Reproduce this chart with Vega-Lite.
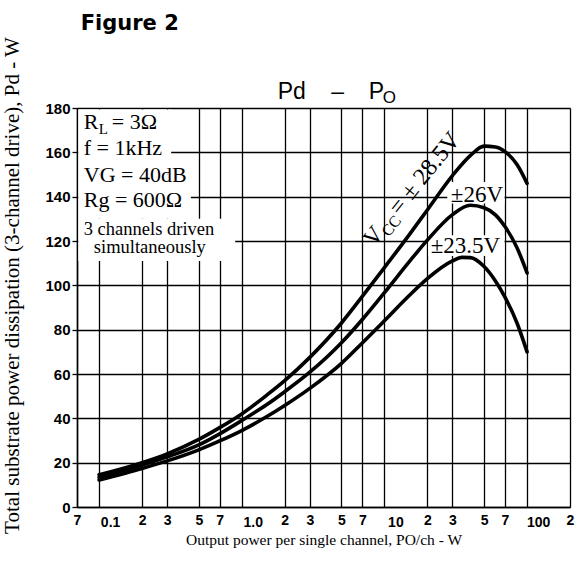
{
  "$schema": "https://vega.github.io/schema/vega-lite/v6.json",
  "width": 493,
  "height": 399,
  "autosize": {"type": "none"},
  "padding": {"left": 77, "top": 108, "right": 10, "bottom": 55},
  "background": "white",
  "config": {"view": {"stroke": null}},
  "encoding": {
    "x": {
      "field": "x", "type": "quantitative",
      "scale": {"type": "log", "domain": [0.07, 200], "nice": false},
      "axis": {
        "values": [0.07, 0.1, 0.2, 0.3, 0.5, 0.7, 1, 2, 3, 5, 7, 10, 20, 30, 50, 70, 100, 200],
        "labelExpr": "datum.value==0.1?'0.1':datum.value==1?'1.0':datum.value==10?'10':datum.value==100?'100':substring(format(datum.value,'.1e'),0,1)",
        "grid": true, "gridColor": "#000", "gridWidth": 1.3, "gridOpacity": 1,
        "domain": true, "domainColor": "#000", "domainWidth": 1.5,
        "ticks": false,
        "labelFont": "Liberation Sans", "labelFontSize": 14, "labelFontWeight": "bold", "labelColor": "#000",
        "labelBaseline": "top",
        "labelPadding": {"condition": {"test": "datum.value==0.1||datum.value==1||datum.value==10||datum.value==100", "value": 8}, "value": 6},
        "labelOffset": {"condition": {"test": "datum.value==0.1||datum.value==1||datum.value==10||datum.value==100", "value": 11}, "value": 0},
        "labelOverlap": false, "labelBound": false, "labelFlush": false,
        "title": "Output power per single channel, PO/ch - W",
        "titleFont": "Liberation Serif", "titleFontSize": 15.5, "titleFontWeight": "normal", "titleColor": "#000",
        "titleBaseline": "alphabetic", "titleY": 37
      }
    },
    "y": {
      "field": "y", "type": "quantitative",
      "scale": {"domain": [0, 180], "nice": false, "zero": false},
      "axis": {
        "values": [0, 20, 40, 60, 80, 100, 120, 140, 160, 180],
        "grid": true, "gridColor": "#000", "gridWidth": 1.3, "gridOpacity": 1,
        "domain": true, "domainColor": "#000", "domainWidth": 1.5,
        "ticks": true, "tickSize": 5, "tickColor": "#000", "tickWidth": 1.3,
        "labelFont": "Liberation Sans", "labelFontSize": 15, "labelFontWeight": "bold", "labelColor": "#000",
        "labelPadding": 2, "labelOverlap": false, "labelBound": false, "labelFlush": false,
        "title": "Total substrate power dissipation (3-channel drive), Pd - W",
        "titleFont": "Liberation Serif", "titleFontSize": 21, "titleFontWeight": "normal", "titleColor": "#000",
        "titleAngle": -90, "titleAlign": "center", "titleBaseline": "alphabetic",
        "titleX": -59, "titleY": 177
      }
    }
  },
  "layer": [
    {
      "data": {"values": [
        {"x": 0.0715, "x2": 0.32, "y": 150, "y2": 179.3},
        {"x": 0.0715, "x2": 0.44, "y": 130, "y2": 150},
        {"x": 0.0715, "x2": 0.9, "y": 111, "y2": 130},
        {"x": 27.6, "x2": 69.5, "y": 136.9, "y2": 146.6},
        {"x": 20.3, "x2": 69.5, "y": 113.2, "y2": 122.6}
      ]},
      "mark": {"type": "rect", "color": "white"},
      "encoding": {"x2": {"field": "x2"}, "y2": {"field": "y2"}}
    },
    {
      "data": {"values": [
        {"series": "28.5", "x": 0.1, "y": 14.5}, {"series": "28.5", "x": 0.2, "y": 20}, {"series": "28.5", "x": 0.3, "y": 24},
        {"series": "28.5", "x": 0.5, "y": 30.5}, {"series": "28.5", "x": 0.7, "y": 35.8}, {"series": "28.5", "x": 1, "y": 42},
        {"series": "28.5", "x": 1.5, "y": 50.5}, {"series": "28.5", "x": 2, "y": 57}, {"series": "28.5", "x": 3, "y": 67.5},
        {"series": "28.5", "x": 5, "y": 83}, {"series": "28.5", "x": 7, "y": 95}, {"series": "28.5", "x": 10, "y": 108},
        {"series": "28.5", "x": 15, "y": 123}, {"series": "28.5", "x": 20, "y": 134}, {"series": "28.5", "x": 30, "y": 149.5},
        {"series": "28.5", "x": 40, "y": 158.5}, {"series": "28.5", "x": 50, "y": 162.8}, {"series": "28.5", "x": 60, "y": 162.4},
        {"series": "28.5", "x": 70, "y": 160.3}, {"series": "28.5", "x": 85, "y": 154.5}, {"series": "28.5", "x": 100, "y": 146},
        {"series": "26", "x": 0.1, "y": 13.3}, {"series": "26", "x": 0.2, "y": 18.9}, {"series": "26", "x": 0.3, "y": 22.6},
        {"series": "26", "x": 0.5, "y": 28}, {"series": "26", "x": 0.7, "y": 33}, {"series": "26", "x": 1, "y": 39},
        {"series": "26", "x": 1.5, "y": 46.2}, {"series": "26", "x": 2, "y": 52}, {"series": "26", "x": 3, "y": 60.8},
        {"series": "26", "x": 5, "y": 74.1}, {"series": "26", "x": 7, "y": 84.6}, {"series": "26", "x": 10, "y": 96.7},
        {"series": "26", "x": 15, "y": 110.8}, {"series": "26", "x": 20, "y": 120.4}, {"series": "26", "x": 30, "y": 131.9},
        {"series": "26", "x": 40, "y": 136.1}, {"series": "26", "x": 50, "y": 135}, {"series": "26", "x": 60, "y": 131.8},
        {"series": "26", "x": 70, "y": 126.5}, {"series": "26", "x": 85, "y": 117}, {"series": "26", "x": 100, "y": 105.6},
        {"series": "23.5", "x": 0.1, "y": 12.2}, {"series": "23.5", "x": 0.2, "y": 17.4}, {"series": "23.5", "x": 0.3, "y": 20.8},
        {"series": "23.5", "x": 0.5, "y": 25.8}, {"series": "23.5", "x": 0.7, "y": 29.8}, {"series": "23.5", "x": 1, "y": 34.5},
        {"series": "23.5", "x": 1.5, "y": 40.8}, {"series": "23.5", "x": 2, "y": 45.8}, {"series": "23.5", "x": 3, "y": 53.5},
        {"series": "23.5", "x": 5, "y": 64.8}, {"series": "23.5", "x": 7, "y": 74}, {"series": "23.5", "x": 10, "y": 84},
        {"series": "23.5", "x": 15, "y": 95.5}, {"series": "23.5", "x": 20, "y": 103}, {"series": "23.5", "x": 30, "y": 111},
        {"series": "23.5", "x": 35, "y": 112.6}, {"series": "23.5", "x": 40, "y": 112.5}, {"series": "23.5", "x": 50, "y": 108.5},
        {"series": "23.5", "x": 60, "y": 102}, {"series": "23.5", "x": 70, "y": 94.7}, {"series": "23.5", "x": 85, "y": 83},
        {"series": "23.5", "x": 100, "y": 70}
      ]},
      "mark": {"type": "line", "color": "#000", "strokeWidth": 3.6, "interpolate": "monotone", "strokeCap": "round"},
      "encoding": {"detail": {"field": "series"}}
    },
    {
      "data": {"values": [
        {"x": 0.07805, "y": 170.4, "label": "R"},
        {"x": 0.1227, "y": 170.4, "label": "= 3Ω"},
        {"x": 0.07805, "y": 158.8, "label": "f = 1kHz"},
        {"x": 0.07805, "y": 146.8, "label": "VG = 40dB"},
        {"x": 0.07805, "y": 135.5, "label": "Rg = 600Ω"}
      ]},
      "mark": {"type": "text", "font": "Liberation Serif", "fontSize": 22, "align": "left", "baseline": "alphabetic", "color": "#000"},
      "encoding": {"text": {"field": "label"}}
    },
    {
      "data": {"values": [{"x": 0.0994, "y": 168.3, "label": "L"}]},
      "mark": {"type": "text", "font": "Liberation Serif", "fontSize": 15, "align": "left", "baseline": "alphabetic", "color": "#000"},
      "encoding": {"text": {"field": "label"}}
    },
    {
      "data": {"values": [
        {"x": 0.07805, "y": 122.9, "label": "3 channels driven"},
        {"x": 0.0918, "y": 114.5, "label": "simultaneously"}
      ]},
      "mark": {"type": "text", "font": "Liberation Serif", "fontSize": 18.5, "align": "left", "baseline": "alphabetic", "color": "#000"},
      "encoding": {"text": {"field": "label"}}
    },
    {
      "data": {"values": [
        {"x": 29.2, "y": 137.7, "label": "±26V"},
        {"x": 21.1, "y": 114.6, "label": "±23.5V"}
      ]},
      "mark": {"type": "text", "font": "Liberation Serif", "fontSize": 23, "align": "left", "baseline": "alphabetic", "color": "#000"},
      "encoding": {"text": {"field": "label"}}
    },
    {
      "data": {"values": [
        {"x": 8.42, "y": 116.9, "label": "V"},
        {"x": 12.75, "y": 131.2, "label": "= ± 28.5V"}
      ]},
      "mark": {"type": "text", "font": "Liberation Serif", "fontSize": 24, "align": "left", "baseline": "alphabetic", "angle": -51, "color": "#000"},
      "encoding": {"text": {"field": "label"}}
    },
    {
      "data": {"values": [{"x": 10.71, "y": 121.6, "label": "CC"}]},
      "mark": {"type": "text", "font": "Liberation Serif", "fontSize": 16, "align": "left", "baseline": "alphabetic", "angle": -51, "color": "#000"},
      "encoding": {"text": {"field": "label"}}
    },
    {
      "data": {"values": [
        {"x": 1.788, "y": 184.1, "label": "Pd"},
        {"x": 7.77, "y": 184.1, "label": "P"}
      ]},
      "mark": {"type": "text", "font": "Liberation Sans", "fontSize": 23, "align": "left", "baseline": "alphabetic", "color": "#000"},
      "encoding": {"text": {"field": "label"}}
    },
    {
      "data": {"values": [{"x": 4.71, "y": 184.1, "label": "–"}]},
      "mark": {"type": "text", "font": "Liberation Sans", "fontSize": 23, "align": "center", "baseline": "alphabetic", "color": "#000"},
      "encoding": {"text": {"field": "label"}}
    },
    {
      "data": {"values": [{"x": 9.74, "y": 182.1, "label": "O"}]},
      "mark": {"type": "text", "font": "Liberation Sans", "fontSize": 17, "align": "left", "baseline": "alphabetic", "color": "#000"},
      "encoding": {"text": {"field": "label"}}
    },
    {
      "data": {"values": [{"x": 0.0743, "y": 215.2, "label": "Figure 2"}]},
      "mark": {"type": "text", "font": "DejaVu Sans", "fontSize": 21, "fontWeight": "bold", "align": "left", "baseline": "alphabetic", "color": "#000"},
      "encoding": {"text": {"field": "label"}}
    }
  ]
}
